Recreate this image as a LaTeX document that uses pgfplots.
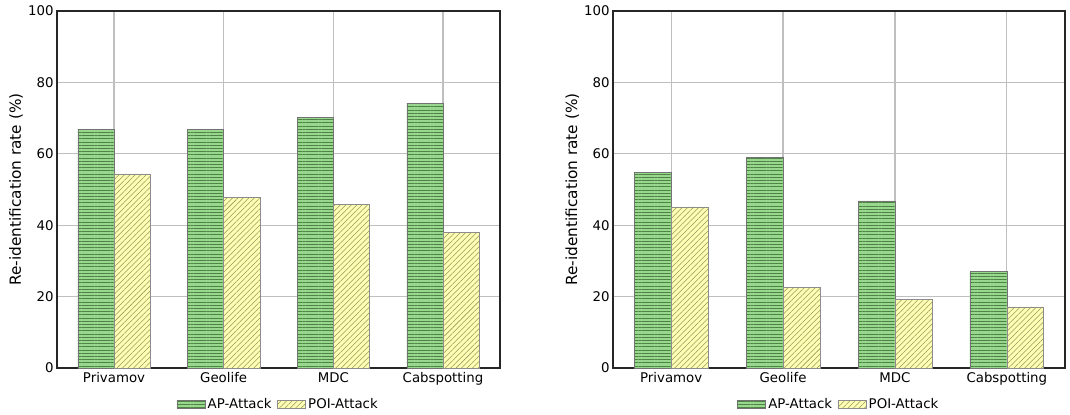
\documentclass[border=0pt]{standalone}
\usepackage{fontspec}
\setmainfont{DejaVu Sans}
\usepackage{pgfplots}
\pgfplotsset{compat=1.18}
\usetikzlibrary{patterns.meta}
\definecolor{apgreen}{RGB}{152,216,140}
\definecolor{aphatch}{RGB}{80,130,72}
\definecolor{poiyellow}{RGB}{255,255,180}
\definecolor{poihatch}{RGB}{150,150,95}
\pgfplotsset{
  myax/.style={
    scale only axis, width=332.25pt, height=267.75pt,
    anchor=south west,
    xmin=-0.52, xmax=3.52, ymin=0, ymax=100,
    xtick={0,1,2,3},
    xticklabels={Privamov,Geolife,MDC,Cabspotting},
    ytick={0,20,40,60,80,100},
    grid=major, grid style={gray!50, line width=0.9pt},
    major tick length=0pt,
    axis line style={black!85, line width=0.9pt},
    tick label style={font=\fontsize{10}{11}\selectfont},
    /pgf/number format/assume math mode=true,
    ylabel={Re-identification rate (\%)},
    ylabel style={font=\fontsize{11.5}{13}\selectfont, yshift=-3pt},
    xticklabel style={yshift=0pt},
    yticklabel style={xshift=1pt},
    ybar, bar width=0.33,
    legend style={at={(0.5,-0.07)}, anchor=north, draw=none, fill=none,
      font=\fontsize{10}{11}\selectfont, legend columns=2,
      /tikz/every even column/.append style={column sep=2pt}},
    legend image code/.code={\draw[#1] (0pt,-3pt) rectangle (21pt,3pt);},
  },
  apbar/.style={fill=apgreen, draw=black!55, line width=0.4pt,
    postaction={pattern={Lines[angle=0,distance=2.4pt,line width=0.5pt]}, pattern color=aphatch},
    bar shift=-0.165},
  poibar/.style={fill=poiyellow, draw=black!45, line width=0.4pt,
    postaction={pattern={Lines[angle=45,distance=2.9pt,line width=0.4pt]}, pattern color=poihatch},
    bar shift=0.165},
}
\begin{document}
\begin{tikzpicture}
\path[use as bounding box] (0,0) rectangle (802.5pt,310.5pt);
\begin{axis}[myax, at={(42.75pt,34.5pt)}]
\addplot[apbar] coordinates {(0,66.9) (1,66.9) (2,70.1) (3,74.2)};
\addplot[poibar] coordinates {(0,54.4) (1,47.7) (2,45.9) (3,38.0)};
\legend{AP-Attack, POI-Attack}
\end{axis}
\begin{axis}[myax, at={(459.75pt,34.5pt)}, width=339pt]
\addplot[apbar] coordinates {(0,54.9) (1,59.0) (2,46.8) (3,27.1)};
\addplot[poibar] coordinates {(0,45.1) (1,22.5) (2,19.2) (3,17.1)};
\legend{AP-Attack, POI-Attack}
\end{axis}
\end{tikzpicture}
\end{document}
